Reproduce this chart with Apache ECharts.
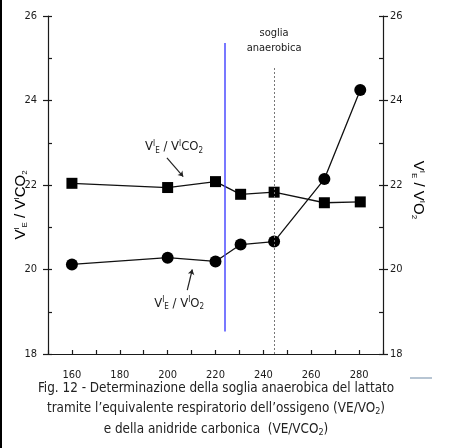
<!DOCTYPE html>
<html><head><meta charset="utf-8">
<script src="https://cdn.jsdelivr.net/npm/echarts@6/dist/echarts.min.js"></script>
<style>html,body{margin:0;padding:0;background:#fff}#c{width:450px;height:448px}</style>
</head><body><div id="c"></div>
<script>
const xVals = [160, 200, 220, 230.5, 244.5, 265.5, 280.5];
const veVo2 = [20.12, 20.28, 20.19, 20.59, 20.66, 22.14, 24.25];
const veVco2 = [22.04, 21.94, 22.08, 21.78, 21.83, 21.58, 21.60];
const xTickLabels = [160, 180, 200, 220, 240, 260, 280];
const yTickLabels = [18, 20, 22, 24, 26];
const thresholdBlue = 224;
const thresholdDashed = 244.5;

const narrow = "'Liberation Sans Narrow','DejaVu Sans Condensed',sans-serif";
const ink = '#1a1a1a';
const chart = echarts.init(document.getElementById('c'));

function yAx(pos, show, margin) {
  return {
    type: 'value', min: 18, max: 26, interval: show ? 2 : 1, position: pos,
    splitLine: {show: false},
    axisLine: {show: show, lineStyle: {color: ink, width: 1.2}},
    axisTick: {show: true, inside: !show, length: show ? 5 : 4, lineStyle: {color: ink, width: 1.2}},
    axisLabel: {show: show, margin: margin, color: ink, fontFamily: narrow, fontSize: 11,
      formatter: v => yTickLabels.includes(v) ? String(v) : ''}
  };
}

const nameRich = {
  m: {fontSize: 15, color: ink, fontFamily: "'Liberation Sans',Arial,sans-serif"},
  sub: {fontSize: 8, color: ink, padding: [8,0,0,0]},
  sup: {fontSize: 8, color: ink, padding: [0,0,8,0]}
};

const richLbl = {
  m: {fontSize: 13, color: ink, fontFamily: narrow},
  sub: {fontSize: 8, color: ink, fontFamily: narrow, padding: [8,0,0,0]},
  sup: {fontSize: 8, color: ink, fontFamily: narrow, padding: [0,0,7,0]}
};

chart.setOption({
  animation: false,
  grid: {left: 48, right: 67, top: 16, bottom: 94, containLabel: false, outerBoundsMode: 'none'},
  xAxis: {
    type: 'value', min: 150, max: 290, interval: 10,
    splitLine: {show: false},
    axisLine: {lineStyle: {color: ink, width: 1.2}},
    axisTick: {inside: true, length: 4, lineStyle: {color: ink, width: 1.2}},
    axisLabel: {margin: 16, color: ink, fontFamily: narrow, fontSize: 11,
      formatter: v => xTickLabels.includes(v) ? String(v) : ''}
  },
  yAxis: [
    yAx('left', true, 11),
    yAx('right', true, 7),
    yAx('left', false, 8),
    yAx('right', false, 8)
  ],
  title: {
    text: 'Fig. 12 - Determinazione della soglia anaerobica del lattato\ntramite l\u2019equivalente respiratorio dell\u2019ossigeno (VE/VO{s|2})\ne della anidride carbonica  (VE/VCO{s|2})',
    left: 211, top: 373, textAlign: 'center',
    textStyle: {fontFamily: "'DejaVu Sans Condensed','DejaVu Sans',sans-serif", fontSize: 13.4, fontWeight: 'normal',
      color: '#222', lineHeight: 20.5,
      rich: {s: {fontSize: 9, color: '#222', padding: [6,0,0,0], fontFamily: "'DejaVu Sans Condensed',sans-serif"}}}
  },
  graphic: [
    {type: 'rect', shape: {x: 0, y: 0, width: 2, height: 448}, style: {fill: '#000'}},
    {type: 'line', shape: {x1: 410, y1: 378, x2: 432, y2: 378}, style: {stroke: '#9fb2c4', lineWidth: 1.5}},
    {type: 'text', x: 21, y: 205, rotation: Math.PI / 2,
      style: {text: '{m|V}{sup|I}{sub|E}{m| / V}{sup|I}{m|CO}{sub|2}', rich: nameRich, align: 'center', verticalAlign: 'middle'}},
    {type: 'text', x: 418, y: 190, rotation: -Math.PI / 2,
      style: {text: '{m|V}{sup|I}{sub|E}{m| / V}{sup|I}{m|O}{sub|2}', rich: nameRich, align: 'center', verticalAlign: 'middle'}}
  ],
  series: [
    {
      type: 'line', name: 'VE/VO2', data: xVals.map((x, i) => [x, veVo2[i]]),
      symbol: 'circle', symbolSize: 12, itemStyle: {color: '#000'},
      lineStyle: {color: '#111', width: 1.3},
      markLine: {
        silent: true, symbol: ['none', 'none'], label: {show: false},
        data: [
          [{coord: [thresholdBlue, 18.53], lineStyle: {color: '#4b4bff', width: 1.5, type: 'solid'}}, {coord: [thresholdBlue, 25.36]}],
          [{coord: [thresholdDashed, 18], lineStyle: {color: '#777', width: 1, type: [2, 2]}}, {coord: [thresholdDashed, 24.8]}],
          [{coord: [208.2, 19.51], symbol: 'none', lineStyle: {color: '#222', width: 1.2, type: 'solid'}}, {coord: [210.3, 20.0], symbol: 'arrow', symbolSize: 5}],
          [{coord: [199.7, 22.64], symbol: 'none', lineStyle: {color: '#222', width: 1.2, type: 'solid'}}, {coord: [206.5, 22.2], symbol: 'arrow', symbolSize: 5}]
        ]
      },
      markPoint: {
        silent: true, symbol: 'circle', symbolSize: 0,
        data: [
          {coord: [202.7, 22.9], label: {show: true, position: 'inside', formatter: '{m|V}{sup|I}{sub|E}{m| / V}{sup|I}{m|CO}{sub|2}', rich: richLbl}},
          {coord: [204.8, 19.2], label: {show: true, position: 'inside', formatter: '{m|V}{sup|I}{sub|E}{m| / V}{sup|I}{m|O}{sub|2}', rich: richLbl}},
          {coord: [thresholdDashed, 25.41], label: {show: true, position: 'inside', formatter: 'soglia\nanaerobica', color: ink, fontFamily: narrow, fontSize: 11, lineHeight: 15, align: 'center'}}
        ]
      }
    },
    {
      type: 'line', name: 'VE/VCO2', data: xVals.map((x, i) => [x, veVco2[i]]),
      symbol: 'rect', symbolSize: 11, itemStyle: {color: '#000'},
      lineStyle: {color: '#111', width: 1.3}
    }
  ]
});
</script></body></html>
